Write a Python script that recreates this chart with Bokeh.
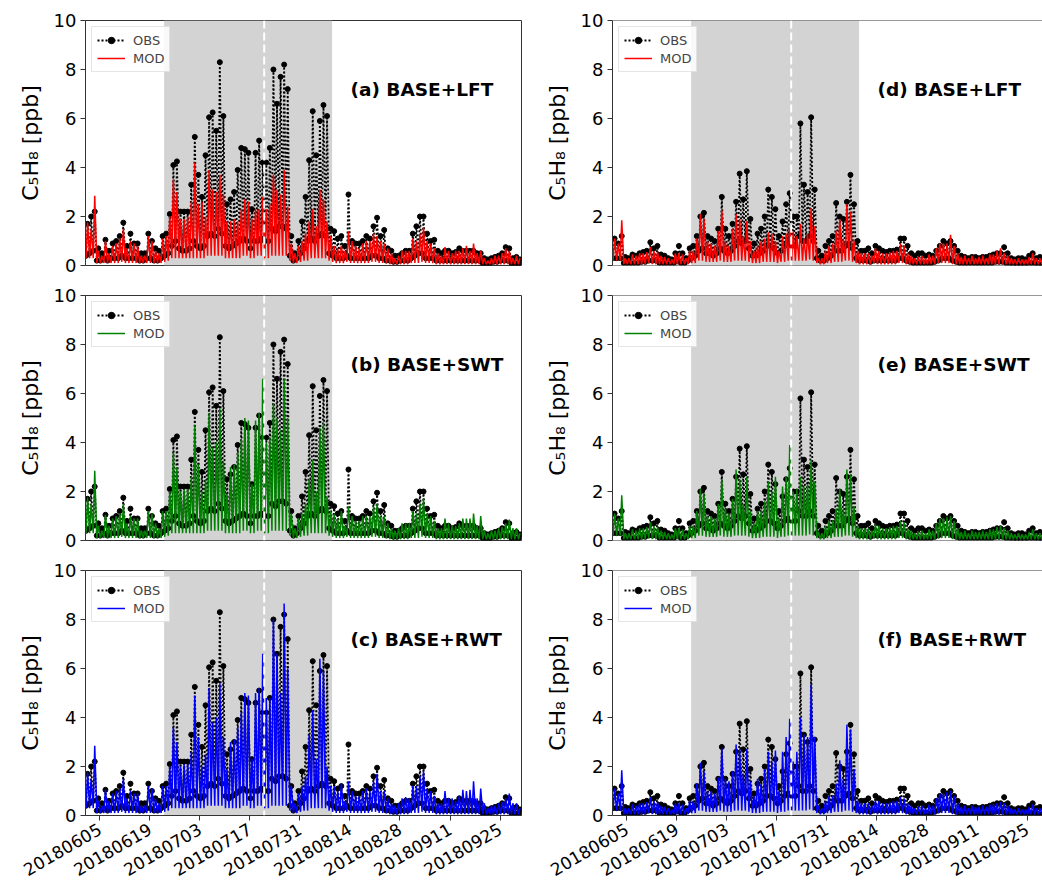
import numpy as np
import pandas as pd
from bokeh.plotting import figure
from bokeh.layouts import row, column
from bokeh.models import (Range1d, FixedTicker, DatetimeTickFormatter, BoxAnnotation,
                          Span, Label, Legend, LegendItem, ColumnDataSource, Whisker)
from bokeh.embed import file_html
from bokeh.resources import INLINE

# ---------------- data (daily values, 2018-06-01 .. 2018-09-30) ----------------
start_date = "2018-06-01"
n_days = 122
tick_dates = ["2018-06-05", "2018-06-19", "2018-07-03", "2018-07-17", "2018-07-31",
              "2018-08-14", "2018-08-28", "2018-09-11", "2018-09-25"]
shade_start, shade_end = "2018-06-23", "2018-08-09"
split_date = "2018-07-21"

# site 1 (left column): observed daily maxima / nightly minima
obs1_peak = [1.7, 2.0, 2.2, 0.7, 0.5, 1.05, 0.6, 0.9, 1.0, 1.2,
             1.75, 0.8, 1.3, 0.9, 0.9, 0.5, 0.5, 1.3, 1.0, 0.7,
             0.6, 1.2, 1.3, 2.1, 4.1, 4.25, 2.2, 2.2, 2.2, 3.3,
             5.25, 3.7, 2.8, 4.5, 6.05, 6.25, 5.5, 8.3, 6.1, 2.5,
             2.7, 3.0, 3.9, 4.8, 4.75, 4.6, 2.3, 4.6, 5.1, 4.2,
             4.2, 4.8, 8.0, 6.6, 7.7, 8.2, 7.2, 1.2, 0.5, 1.0,
             1.8, 2.8, 4.3, 6.3, 4.5, 5.9, 6.55, 6.1, 1.5, 1.4,
             1.1, 1.2, 0.8, 2.9, 1.0, 0.9, 0.9, 1.0, 1.2, 1.1,
             1.6, 1.95, 1.2, 1.45, 0.7, 0.6, 0.4, 0.4, 0.5, 0.6,
             0.6, 1.3, 1.6, 2.0, 2.0, 1.3, 1.0, 1.05, 0.6, 0.5,
             0.6, 0.6, 0.5, 0.55, 0.7, 0.6, 0.6, 0.6, 0.6, 0.5,
             0.5, 0.3, 0.25, 0.3, 0.35, 0.4, 0.5, 0.75, 0.7, 0.3,
             0.35, 0.25]
obs1_low = [0.4, 0.5, 0.6, 0.2, 0.2, 0.3, 0.2, 0.3, 0.3, 0.3,
            0.4, 0.3, 0.3, 0.3, 0.3, 0.2, 0.2, 0.3, 0.3, 0.2,
            0.2, 0.3, 0.4, 0.5, 0.8, 1.0, 0.7, 0.6, 0.6, 0.7,
            1.0, 0.8, 0.7, 0.8, 1.2, 1.3, 1.2, 1.5, 1.3, 0.8,
            0.7, 0.8, 0.9, 1.0, 1.1, 1.0, 0.7, 1.0, 1.0, 1.1,
            1.0, 1.0, 1.5, 1.4, 1.6, 1.6, 1.5, 0.4, 0.2, 0.3,
            0.5, 0.7, 1.0, 1.1, 1.0, 1.2, 1.3, 1.2, 0.5, 0.4,
            0.3, 0.3, 0.3, 0.4, 0.3, 0.3, 0.3, 0.3, 0.3, 0.3,
            0.4, 0.4, 0.3, 0.3, 0.2, 0.2, 0.15, 0.15, 0.2, 0.2,
            0.2, 0.3, 0.4, 0.5, 0.5, 0.3, 0.3, 0.3, 0.2, 0.2,
            0.2, 0.2, 0.2, 0.2, 0.2, 0.2, 0.2, 0.2, 0.2, 0.2,
            0.2, 0.1, 0.1, 0.1, 0.15, 0.15, 0.2, 0.2, 0.2, 0.1,
            0.1, 0.1]
# site 1 modelled nightly minima (shared by the three runs)
mod1_low = [0.3, 0.3, 0.3, 0.1, 0.1, 0.1, 0.1, 0.1, 0.1, 0.1,
            0.15, 0.1, 0.1, 0.1, 0.1, 0.1, 0.1, 0.1, 0.1, 0.1,
            0.1, 0.1, 0.15, 0.2, 0.3, 0.3, 0.3, 0.3, 0.3, 0.3,
            0.3, 0.3, 0.3, 0.3, 0.4, 0.4, 0.4, 0.4, 0.4, 0.3,
            0.3, 0.3, 0.3, 0.3, 0.4, 0.4, 0.3, 0.3, 0.4, 0.4,
            0.3, 0.3, 0.4, 0.4, 0.4, 0.4, 0.4, 0.2, 0.1, 0.1,
            0.15, 0.2, 0.2, 0.3, 0.3, 0.3, 0.3, 0.3, 0.2, 0.15,
            0.1, 0.1, 0.1, 0.15, 0.1, 0.1, 0.1, 0.1, 0.1, 0.1,
            0.15, 0.15, 0.1, 0.1, 0.1, 0.05, 0.05, 0.05, 0.05, 0.05,
            0.05, 0.1, 0.1, 0.1, 0.15, 0.1, 0.1, 0.1, 0.05, 0.05,
            0.05, 0.05, 0.05, 0.05, 0.05, 0.05, 0.05, 0.05, 0.05, 0.05,
            0.05, 0.05, 0.05, 0.05, 0.05, 0.05, 0.05, 0.05, 0.05, 0.05,
            0.05, 0.05]
lft1_peak = [1.75, 1.5, 2.85, 0.6, 0.4, 1.0, 0.5, 0.8, 0.9, 1.1,
             1.5, 0.7, 1.0, 0.9, 0.8, 0.4, 0.4, 1.2, 1.0, 0.6,
             0.5, 1.1, 1.2, 2.0, 3.5, 3.0, 1.9, 1.9, 2.0, 2.6,
             4.2, 2.5, 2.6, 2.0, 3.9, 3.1, 3.0, 3.7, 2.9, 1.8,
             1.8, 1.9, 1.8, 2.3, 2.7, 2.6, 1.9, 2.3, 2.3, 2.8,
             2.3, 2.5, 3.7, 3.1, 2.9, 3.9, 2.4, 0.9, 0.5, 0.8,
             1.0, 1.3, 1.8, 2.3, 1.6, 3.1, 2.7, 1.8, 1.2, 0.8,
             0.7, 0.8, 0.6, 1.4, 1.0, 0.8, 0.7, 0.9, 1.0, 1.0,
             1.3, 1.2, 1.0, 0.9, 0.7, 0.5, 0.3, 0.4, 0.6, 0.6,
             0.6, 1.1, 1.0, 1.3, 1.55, 1.0, 0.9, 0.7, 0.5, 0.4,
             0.75, 0.6, 0.5, 0.6, 0.6, 0.7, 0.8, 0.6, 0.9, 0.5,
             0.6, 0.3, 0.2, 0.3, 0.4, 0.4, 0.5, 0.7, 0.6, 0.3,
             0.4, 0.3]
swt1_peak = [1.75, 1.5, 2.85, 0.6, 0.4, 1.05, 0.6, 0.9, 1.0, 1.1,
             1.5, 0.7, 1.0, 0.9, 0.9, 0.4, 0.4, 1.2, 1.1, 0.7,
             0.5, 1.2, 1.2, 2.0, 3.6, 3.0, 2.0, 2.1, 2.1, 2.6,
             4.7, 3.1, 2.0, 2.5, 5.2, 3.8, 4.0, 5.4, 3.2, 1.9,
             3.0, 3.1, 3.6, 4.1, 5.0, 4.9, 2.3, 4.9, 5.2, 6.6,
             4.0, 4.2, 5.6, 5.0, 4.5, 6.6, 5.0, 1.1, 0.5, 0.9,
             1.1, 1.5, 2.5, 3.3, 2.0, 4.6, 4.8, 1.8, 1.2, 1.1,
             0.9, 1.2, 0.6, 1.4, 1.0, 0.8, 0.8, 1.0, 1.0, 1.0,
             1.4, 1.5, 1.0, 1.0, 0.7, 0.5, 0.4, 0.5, 0.7, 0.7,
             0.7, 1.2, 1.1, 1.5, 1.7, 1.1, 1.0, 0.8, 0.5, 0.5,
             0.9, 0.7, 0.6, 0.6, 0.7, 0.9, 0.9, 0.9, 1.1, 0.6,
             1.0, 0.4, 0.3, 0.4, 0.4, 0.5, 0.55, 0.7, 0.85, 0.5,
             0.5, 0.3]
rwt1_peak = [1.75, 1.5, 2.85, 0.6, 0.4, 1.05, 0.6, 0.9, 1.0, 1.1,
             1.5, 0.7, 1.0, 0.9, 0.9, 0.4, 0.4, 1.2, 1.1, 0.7,
             0.5, 1.2, 1.2, 2.0, 3.6, 3.0, 2.0, 2.1, 2.1, 2.6,
             4.9, 3.2, 2.0, 2.5, 5.2, 3.8, 4.0, 5.4, 3.2, 1.9,
             3.0, 3.1, 3.6, 4.2, 5.0, 4.9, 2.3, 5.0, 5.2, 6.6,
             4.8, 4.8, 8.0, 6.6, 5.0, 8.65, 6.0, 1.2, 0.5, 0.9,
             1.2, 1.6, 3.3, 4.3, 2.3, 6.4, 5.9, 2.0, 1.2, 1.2,
             1.0, 1.3, 0.6, 1.4, 1.0, 0.8, 0.8, 1.0, 1.1, 1.0,
             1.4, 1.7, 1.0, 1.0, 0.7, 0.5, 0.4, 0.5, 0.7, 0.75,
             0.7, 1.2, 1.2, 1.6, 1.8, 1.1, 1.0, 0.8, 0.5, 0.5,
             1.0, 0.7, 0.7, 0.6, 0.8, 1.05, 1.0, 1.05, 1.4, 0.7,
             1.1, 0.5, 0.3, 0.4, 0.4, 0.5, 0.55, 0.7, 0.9, 0.5,
             0.5, 0.3]

# site 2 (right column)
obs2_peak = [1.1, 0.9, 1.2, 0.35, 0.3, 0.45, 0.4, 0.5, 0.55, 0.6,
             0.95, 0.7, 0.8, 0.45, 0.4, 0.3, 0.25, 0.5, 0.8, 0.5,
             0.3, 0.7, 0.8, 1.2, 2.0, 2.15, 1.2, 1.1, 1.0, 1.5,
             2.8, 1.5, 1.2, 1.7, 2.6, 3.75, 2.7, 3.85, 1.9, 0.9,
             1.3, 1.5, 2.0, 3.1, 2.8, 2.3, 1.2, 1.8, 2.5, 2.95,
             2.0, 2.0, 5.8, 3.3, 3.0, 6.05, 3.1, 0.6, 0.4, 0.8,
             1.0, 1.2, 2.55, 2.0, 1.9, 2.6, 3.7, 2.5, 1.0, 0.6,
             0.6, 0.7, 0.5, 0.8, 0.7, 0.6, 0.55, 0.6, 0.6, 0.65,
             1.1, 1.1, 0.8, 0.5, 0.4, 0.5, 0.5, 0.4, 0.45, 0.4,
             0.6, 0.8, 1.0, 0.9, 1.0, 0.8, 0.6, 0.4, 0.35, 0.3,
             0.35, 0.35, 0.3, 0.35, 0.35, 0.4, 0.45, 0.5, 0.5, 0.75,
             0.5, 0.3, 0.25, 0.3, 0.3, 0.25, 0.4, 0.5, 0.3, 0.35,
             0.3, 0.3]
obs2_low = [0.3, 0.3, 0.3, 0.1, 0.1, 0.1, 0.1, 0.1, 0.15, 0.15,
            0.2, 0.2, 0.2, 0.1, 0.1, 0.1, 0.1, 0.1, 0.2, 0.1,
            0.1, 0.2, 0.3, 0.4, 0.6, 0.7, 0.5, 0.5, 0.4, 0.5,
            0.7, 0.6, 0.5, 0.6, 0.8, 1.0, 0.9, 1.0, 0.7, 0.4,
            0.4, 0.5, 0.6, 0.8, 0.8, 0.7, 0.5, 0.6, 0.8, 0.9,
            0.8, 0.8, 1.2, 1.0, 1.0, 1.2, 1.0, 0.3, 0.2, 0.2,
            0.3, 0.4, 0.6, 0.6, 0.6, 0.8, 0.9, 0.7, 0.3, 0.2,
            0.2, 0.2, 0.15, 0.2, 0.2, 0.2, 0.2, 0.2, 0.2, 0.2,
            0.3, 0.3, 0.2, 0.15, 0.1, 0.1, 0.1, 0.1, 0.1, 0.1,
            0.15, 0.2, 0.3, 0.3, 0.3, 0.2, 0.15, 0.1, 0.1, 0.1,
            0.1, 0.1, 0.1, 0.1, 0.1, 0.1, 0.1, 0.15, 0.15, 0.15,
            0.1, 0.1, 0.05, 0.05, 0.05, 0.05, 0.1, 0.1, 0.1, 0.05,
            0.05, 0.05]
mod2_low = [0.2, 0.2, 0.2, 0.05, 0.05, 0.05, 0.05, 0.05, 0.05, 0.05,
            0.1, 0.05, 0.05, 0.05, 0.05, 0.05, 0.05, 0.05, 0.05, 0.05,
            0.05, 0.05, 0.1, 0.1, 0.2, 0.2, 0.15, 0.15, 0.15, 0.15,
            0.2, 0.15, 0.15, 0.15, 0.2, 0.2, 0.2, 0.2, 0.15, 0.1,
            0.1, 0.1, 0.15, 0.15, 0.15, 0.15, 0.1, 0.15, 0.15, 0.2,
            0.2, 0.2, 0.2, 0.2, 0.2, 0.25, 0.2, 0.1, 0.05, 0.05,
            0.1, 0.1, 0.15, 0.15, 0.15, 0.2, 0.2, 0.15, 0.1, 0.05,
            0.05, 0.05, 0.05, 0.1, 0.05, 0.05, 0.05, 0.05, 0.05, 0.05,
            0.1, 0.1, 0.05, 0.05, 0.05, 0.05, 0.05, 0.05, 0.05, 0.05,
            0.05, 0.1, 0.1, 0.1, 0.1, 0.05, 0.05, 0.05, 0.05, 0.05,
            0.05, 0.05, 0.05, 0.05, 0.05, 0.05, 0.05, 0.05, 0.05, 0.05,
            0.05, 0.05, 0.05, 0.05, 0.05, 0.05, 0.05, 0.05, 0.05, 0.05,
            0.05, 0.05]
lft2_peak = [1.1, 0.9, 1.85, 0.3, 0.3, 0.45, 0.4, 0.5, 0.5, 0.55,
             0.75, 0.6, 0.55, 0.4, 0.35, 0.3, 0.25, 0.5, 0.5, 0.45,
             0.3, 0.6, 0.6, 1.1, 2.1, 1.9, 1.0, 0.9, 0.8, 1.4,
             2.25, 1.0, 0.8, 1.5, 2.1, 1.9, 1.2, 1.8, 1.0, 0.6,
             0.8, 1.0, 1.1, 1.35, 1.3, 1.0, 0.6, 1.2, 1.3, 1.55,
             1.4, 1.2, 1.7, 1.1, 1.3, 2.35, 1.6, 0.3, 0.3, 0.6,
             0.8, 0.9, 1.4, 1.9, 1.1, 2.5, 2.2, 1.0, 0.6, 0.5,
             0.5, 0.5, 0.4, 0.7, 0.6, 0.5, 0.5, 0.55, 0.6, 0.6,
             0.9, 0.8, 0.5, 0.4, 0.3, 0.35, 0.4, 0.3, 0.45, 0.4,
             0.7, 0.9, 0.9, 0.9, 1.25, 0.8, 0.5, 0.35, 0.4, 0.3,
             0.4, 0.3, 0.35, 0.4, 0.3, 0.45, 0.45, 0.6, 0.7, 0.5,
             0.4, 0.3, 0.25, 0.3, 0.25, 0.25, 0.35, 0.5, 0.3, 0.3,
             0.3, 0.3]
swt2_peak = [1.1, 0.9, 1.85, 0.3, 0.3, 0.45, 0.4, 0.5, 0.5, 0.55,
             0.75, 0.6, 0.55, 0.4, 0.35, 0.3, 0.25, 0.5, 0.5, 0.45,
             0.3, 0.6, 0.6, 1.2, 2.1, 1.9, 1.0, 1.0, 0.9, 1.5,
             2.5, 1.3, 1.1, 1.7, 2.9, 2.5, 1.5, 2.6, 1.2, 0.7,
             1.2, 1.2, 1.6, 2.4, 2.0, 2.6, 0.9, 2.2, 2.6, 3.9,
             2.0, 2.1, 2.6, 2.2, 2.3, 3.3, 2.4, 0.35, 0.3, 0.6,
             0.8, 0.8, 1.3, 2.1, 1.3, 2.9, 2.7, 1.4, 0.6, 0.5,
             0.5, 0.5, 0.4, 0.65, 0.6, 0.5, 0.5, 0.55, 0.6, 0.6,
             0.8, 0.75, 0.5, 0.4, 0.3, 0.35, 0.4, 0.3, 0.45, 0.4,
             0.7, 0.9, 0.9, 0.95, 1.0, 0.8, 0.5, 0.35, 0.4, 0.3,
             0.4, 0.35, 0.35, 0.4, 0.35, 0.45, 0.45, 0.55, 0.6, 0.5,
             0.4, 0.3, 0.25, 0.3, 0.25, 0.25, 0.35, 0.45, 0.3, 0.3,
             0.3, 0.3]
rwt2_peak = [1.1, 0.9, 1.85, 0.3, 0.3, 0.45, 0.4, 0.5, 0.5, 0.55,
             0.75, 0.6, 0.55, 0.4, 0.35, 0.3, 0.25, 0.5, 0.5, 0.45,
             0.3, 0.6, 0.6, 1.3, 2.15, 1.8, 1.0, 1.0, 0.9, 1.55,
             2.75, 1.5, 1.4, 1.8, 2.9, 2.7, 1.7, 2.7, 1.4, 0.8,
             1.5, 1.3, 1.9, 2.6, 2.2, 2.65, 1.0, 2.6, 3.2, 3.95,
             2.2, 2.6, 4.0, 3.3, 3.2, 5.35, 3.2, 0.4, 0.3, 0.6,
             0.8, 0.8, 1.3, 2.25, 1.5, 3.7, 3.5, 1.9, 0.6, 0.5,
             0.5, 0.5, 0.4, 0.6, 0.6, 0.5, 0.5, 0.55, 0.6, 0.6,
             0.75, 0.7, 0.5, 0.4, 0.3, 0.35, 0.4, 0.3, 0.45, 0.4,
             0.7, 0.9, 0.9, 0.95, 1.0, 0.8, 0.5, 0.35, 0.4, 0.3,
             0.4, 0.35, 0.35, 0.4, 0.35, 0.45, 0.45, 0.5, 0.55, 0.5,
             0.4, 0.3, 0.25, 0.3, 0.25, 0.25, 0.35, 0.45, 0.3, 0.3,
             0.3, 0.3]

panel_titles = ["(a) BASE+LFT", "(b) BASE+SWT", "(c) BASE+RWT",
                "(d) BASE+LFT", "(e) BASE+SWT", "(f) BASE+RWT"]
mod_colors = ["#ff0000", "#008000", "#0000ff"]
y_ticks = [0, 2, 4, 6, 8, 10]

for arr in [obs1_peak, obs1_low, mod1_low, lft1_peak, swt1_peak, rwt1_peak,
            obs2_peak, obs2_low, mod2_low, lft2_peak, swt2_peak, rwt2_peak]:
    assert len(arr) == n_days, len(arr)

# ---------------- helpers ----------------
FONT = "DejaVu Sans"
SPINE = "#333333"
day_starts = pd.date_range(start_date, periods=n_days, freq="D")
low_t = (day_starts + pd.Timedelta(hours=4)).values
peak_t = (day_starts + pd.Timedelta(hours=14)).values
PX_PER_UNIT = 24.5  # frame height 245 px over 10 ppb


def ms(d):
    return pd.Timestamp(d).timestamp() * 1000.0


def interleave(low, peak):
    t = np.empty(2 * n_days, dtype="datetime64[ns]")
    v = np.empty(2 * n_days)
    t[0::2] = low_t
    t[1::2] = peak_t
    v[0::2] = low
    v[1::2] = peak
    return ColumnDataSource(dict(t=t, v=v))


def make_panel(title, obs_low, obs_peak, mod_low, mod_peak, color, col, bottom):
    x_start = ms(start_date)
    if col == 0:
        fw, bl, br = 436, 85, 9
        x_end = ms("2018-10-01")
    else:
        fw, bl, br = 430, 82, 0
        x_end = x_start + 430.0 / 436.0 * 122 * 86400000.0
    p = figure(x_axis_type="datetime", x_range=Range1d(x_start, x_end), y_range=Range1d(0, 10),
               frame_width=fw, frame_height=245, min_border_left=bl, min_border_right=br,
               min_border_top=20, min_border_bottom=10,
               output_backend="svg", toolbar_location=None)
    p.xgrid.visible = False
    p.ygrid.visible = False
    p.background_fill_color = "white"
    p.border_fill_color = "white"
    if col == 0:
        p.outline_line_color = SPINE
        p.outline_line_width = 1
        p.outline_line_alpha = 1
    else:
        p.outline_line_color = None
        p.add_layout(Span(location=10, dimension="width", line_color=SPINE, line_width=1))
        if not bottom:
            p.add_layout(Span(location=0, dimension="width", line_color=SPINE, line_width=1))

    # shaded period
    p.add_layout(BoxAnnotation(left=ms(shade_start), right=ms(shade_end), fill_color="#d3d3d3",
                               fill_alpha=1.0, line_color=None, level="underlay"))

    obs_src = interleave(obs_low, obs_peak)
    mod_src = interleave(mod_low, mod_peak)
    r_obs_line = p.line("t", "v", source=obs_src, line_color="black", line_width=1.8, line_dash="2 2")
    r_obs_pts = p.scatter("t", "v", source=obs_src, size=5, fill_color="black", line_color="black")
    r_mod = p.line("t", "v", source=mod_src, line_color=color, line_width=1.5)

    # split line
    p.add_layout(Span(location=ms(split_date), dimension="height", line_color="white",
                      line_width=2, line_dash="8 4"))

    legend = Legend(items=[LegendItem(label="OBS", renderers=[r_obs_line, r_obs_pts]),
                           LegendItem(label="MOD", renderers=[r_mod])],
                    location="top_left", margin=6, padding=5, spacing=2,
                    label_text_font=FONT, label_text_font_size="13px",
                    glyph_width=28, glyph_height=16, label_height=16, label_standoff=8,
                    border_line_color="#cccccc", border_line_width=1,
                    background_fill_color="white", background_fill_alpha=0.85)
    p.add_layout(legend)

    p.add_layout(Label(x=x_start + 74.15 * 86400000.0, y=7.2, text=title, text_font=FONT,
                       text_font_style="bold", text_font_size="18.5px", text_baseline="middle",
                       text_color="black"))

    # y axis
    p.yaxis.ticker = FixedTicker(ticks=y_ticks, minor_ticks=[])
    p.yaxis.axis_label = "C\u2085H\u2088 [ppb]"
    p.yaxis.axis_label_text_font = FONT
    p.yaxis.axis_label_text_font_size = "22px"
    p.yaxis.axis_label_text_font_style = "normal"
    p.yaxis.axis_label_text_color = "black"
    p.yaxis.axis_label_standoff = 8
    p.yaxis.major_label_text_font = FONT
    p.yaxis.major_label_text_font_size = "18px"
    p.yaxis.major_label_text_color = "black"
    p.yaxis.major_label_standoff = 4
    p.yaxis.axis_line_color = SPINE
    p.yaxis.major_tick_line_color = SPINE
    p.yaxis.major_tick_out = 5
    p.yaxis.major_tick_in = 0
    p.yaxis.minor_tick_line_color = None

    tick_ms = [ms(d) for d in tick_dates]
    if bottom:
        p.xaxis.ticker = FixedTicker(ticks=tick_ms, minor_ticks=[])
        fmt = "%Y%m%d"
        p.xaxis.formatter = DatetimeTickFormatter(microseconds=fmt, milliseconds=fmt, seconds=fmt,
                                                  minsec=fmt, minutes=fmt, hourmin=fmt, hours=fmt,
                                                  days=fmt, months=fmt, years=fmt)
        p.xaxis.major_label_orientation = np.pi / 6
        p.xaxis.major_label_text_font = FONT
        p.xaxis.major_label_text_color = "black"
        p.xaxis.major_label_text_font_size = "17px"
        p.xaxis.major_label_standoff = 7
        p.xaxis.axis_line_color = SPINE
        p.xaxis.major_tick_line_color = SPINE
        p.xaxis.major_tick_out = 5
        p.xaxis.major_tick_in = 0
        p.xaxis.minor_tick_line_color = None
    else:
        # shared x axis: only the tick marks are shown on the upper panels
        p.xaxis.visible = False
        tick_src = ColumnDataSource(dict(base=tick_ms))
        p.add_layout(Whisker(base="base", lower=-5.0 / PX_PER_UNIT, upper=0.0, source=tick_src,
                             dimension="height", lower_head=None, upper_head=None,
                             line_color=SPINE, line_width=1, level="annotation"))
    return p


site1 = (obs1_low, obs1_peak, mod1_low)
site2 = (obs2_low, obs2_peak, mod2_low)
left = [make_panel(panel_titles[i], site1[0], site1[1], site1[2], pk, mod_colors[i], 0, i == 2)
        for i, pk in enumerate([lft1_peak, swt1_peak, rwt1_peak])]
right = [make_panel(panel_titles[3 + i], site2[0], site2[1], site2[2], pk, mod_colors[i], 1, i == 2)
         for i, pk in enumerate([lft2_peak, swt2_peak, rwt2_peak])]

layout = row(column(*left), column(*right))
open("out.html", "w").write(file_html(layout, INLINE))
